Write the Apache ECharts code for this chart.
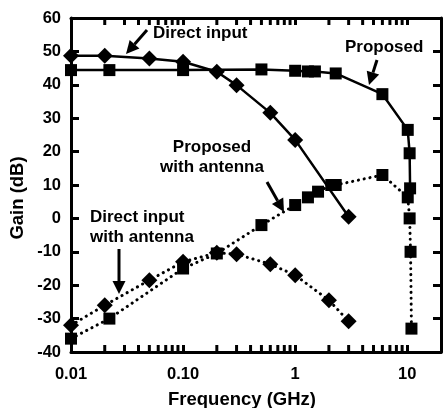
<!DOCTYPE html>
<html>
<head>
<meta charset="utf-8">
<script src="https://cdn.jsdelivr.net/npm/echarts@6/dist/echarts.min.js"></script>
<style>
html, body { margin: 0; padding: 0; background: #fff; }
#chart { width: 444px; height: 408px; }
</style>
</head>
<body>
<div id="chart"></div>
<script>
// frequency in GHz, gain in dB
const directFreq = [0.01, 0.02, 0.05, 0.1, 0.2, 0.3, 0.6, 1.0, 3.0];
const directGain = [48.7, 48.7, 47.9, 46.9, 43.9, 39.9, 31.6, 23.5, 0.5];

const proposedFreq = [0.01, 0.022, 0.1, 0.5, 1.0, 1.3, 1.5, 2.3, 6.0, 10.1, 10.5, 10.6];
const proposedGain = [44.4, 44.4, 44.4, 44.6, 44.2, 44.0, 44.0, 43.4, 37.2, 26.5, 19.5, 9.0];

const directAntFreq = [0.01, 0.02, 0.05, 0.1, 0.2, 0.3, 0.6, 1.0, 2.0, 3.0];
const directAntGain = [-32, -26, -18.5, -13, -10.3, -10.7, -13.7, -17, -24.5, -30.8];

const propAntFreq = [0.01, 0.022, 0.1, 0.2, 0.5, 1.0, 1.3, 1.6, 2.1, 2.3, 6.0, 10.1, 10.5, 10.7, 10.9];
const propAntGain = [-36, -30, -15, -10.5, -2, 4, 6.3, 8, 10, 10, 13, 6.3, 0, -10, -33];

const xTickValues = [0.01, 0.1, 1, 10];
const xTickLabels = ['0.01', '0.10', '1', '10'];
const minorTicks = [0.02, 0.03, 0.04, 0.05, 0.06, 0.07, 0.08, 0.09,
                    0.2, 0.3, 0.4, 0.5, 0.6, 0.7, 0.8, 0.9,
                    2, 3, 4, 5, 6, 7, 8, 9];
const yMin = -40, yMax = 60;

const FONT = '"Liberation Sans", Arial, sans-serif';

function pairs(xs, ys) {
    return xs.map((x, i) => [x, ys[i]]);
}

// annotation arrow: shaft plus a filled head at (x2, y2)
function arrow(x1, y1, x2, y2) {
    const len = Math.hypot(x2 - x1, y2 - y1);
    const ux = (x2 - x1) / len, uy = (y2 - y1) / len;
    const bx = x2 - ux * 13, by = y2 - uy * 13;
    const nx = -uy, ny = ux;
    return [
        { type: 'line', shape: { x1: x1, y1: y1, x2: bx, y2: by },
          style: { stroke: '#000', lineWidth: 3 }, z: 100 },
        { type: 'polygon',
          shape: { points: [[x2, y2], [bx + nx * 6.5, by + ny * 6.5], [bx - nx * 6.5, by - ny * 6.5]] },
          style: { fill: '#000' }, z: 100 }
    ];
}

function label(text, x, y, align) {
    return {
        type: 'text', z: 100,
        style: {
            text: text, x: x, y: y, fill: '#000',
            font: 'bold 17px ' + FONT,
            textAlign: align || 'left', textVerticalAlign: 'middle'
        }
    };
}

const myChart = echarts.init(document.getElementById('chart'), null, { renderer: 'canvas' });

const axisBase = {
    type: 'log',
    logBase: 10,
    min: 0.01,
    max: 20,
    axisLine: { show: true, onZero: false, lineStyle: { color: '#000', width: 3 } },
    axisTick: { show: true, inside: true, length: 7, lineStyle: { color: '#000', width: 3 } },
    splitLine: { show: false }
};

const yBase = {
    type: 'value',
    min: yMin,
    max: yMax,
    interval: 10,
    axisLine: { show: true, onZero: false, lineStyle: { color: '#000', width: 3 } },
    axisTick: { show: true, inside: true, length: 8, lineStyle: { color: '#000', width: 3 } },
    splitLine: { show: false }
};

const solid = { color: '#000', width: 2.5 };
const dotted = { color: '#000', width: 3, type: [0.1, 5.8], cap: 'round' };

const option = {
    animation: false,
    backgroundColor: '#fff',
    grid: { left: 71, right: -2, top: 18, bottom: 56 },
    xAxis: [
        Object.assign({}, axisBase, {
            position: 'bottom',
            axisLabel: {
                color: '#000', fontWeight: 'bold', fontSize: 16.5, fontFamily: FONT, margin: 14,
                formatter: function (v) {
                    for (let i = 0; i < xTickValues.length; i++) {
                        if (Math.abs(v - xTickValues[i]) < xTickValues[i] * 1e-6) return xTickLabels[i];
                    }
                    return '';
                }
            }
        }),
        Object.assign({}, axisBase, { position: 'top', axisLabel: { show: false } })
    ],
    yAxis: [
        Object.assign({}, yBase, {
            position: 'left',
            axisLabel: { color: '#000', fontWeight: 'bold', fontSize: 16.5, fontFamily: FONT, margin: 10 }
        }),
        Object.assign({}, yBase, { position: 'right', axisLabel: { show: false } })
    ],
    series: [
        {
            name: 'Direct input', type: 'line', data: pairs(directFreq, directGain),
            symbol: 'diamond', symbolSize: 16, itemStyle: { color: '#000' },
            lineStyle: solid, z: 5
        },
        {
            name: 'Proposed', type: 'line', data: pairs(proposedFreq, proposedGain),
            symbol: 'rect', symbolSize: 12, itemStyle: { color: '#000' },
            lineStyle: solid, z: 4
        },
        {
            name: 'Direct input with antenna', type: 'line', data: pairs(directAntFreq, directAntGain),
            symbol: 'diamond', symbolSize: 16, itemStyle: { color: '#000' },
            lineStyle: dotted, z: 5
        },
        {
            name: 'Proposed with antenna', type: 'line', data: pairs(propAntFreq, propAntGain),
            symbol: 'rect', symbolSize: 12, itemStyle: { color: '#000' },
            lineStyle: dotted, z: 4
        },
        {
            // minor log ticks on bottom and top axes
            type: 'custom', silent: true, clip: false, z: 10,
            data: minorTicks.map(v => [v, yMin]),
            encode: { x: 0, y: 1 },
            renderItem: function (params, api) {
                const b = api.coord([api.value(0), yMin]);
                const t = api.coord([api.value(0), yMax]);
                return {
                    type: 'group',
                    children: [
                        { type: 'line', shape: { x1: b[0], y1: b[1], x2: b[0], y2: b[1] - 7 },
                          style: { stroke: '#000', lineWidth: 3 } },
                        { type: 'line', shape: { x1: t[0], y1: t[1], x2: t[0], y2: t[1] + 7 },
                          style: { stroke: '#000', lineWidth: 3 } }
                    ]
                };
            }
        }
    ],
    graphic: [
        label('Direct input', 153, 33),
        label('Proposed', 345, 47),
        label('Proposed', 212, 147, 'center'),
        label('with antenna', 212, 167, 'center'),
        label('Direct input', 90, 217),
        label('with antenna', 90, 237),
        {
            type: 'text', z: 100,
            style: { text: 'Frequency (GHz)', x: 242, y: 400, fill: '#000',
                     font: 'bold 18.5px ' + FONT, textAlign: 'center', textVerticalAlign: 'middle' }
        },
        {
            type: 'text', z: 100, x: 18, y: 198, rotation: Math.PI / 2,
            style: { text: 'Gain (dB)', x: 0, y: 0, fill: '#000',
                     font: 'bold 18.5px ' + FONT, textAlign: 'center', textVerticalAlign: 'middle' }
        }
    ].concat(
        arrow(147, 30, 126, 54),
        arrow(377, 60, 369, 85),
        arrow(267, 182, 284, 212),
        arrow(119, 249, 119, 294)
    )
};

myChart.setOption(option);
</script>
</body>
</html>
